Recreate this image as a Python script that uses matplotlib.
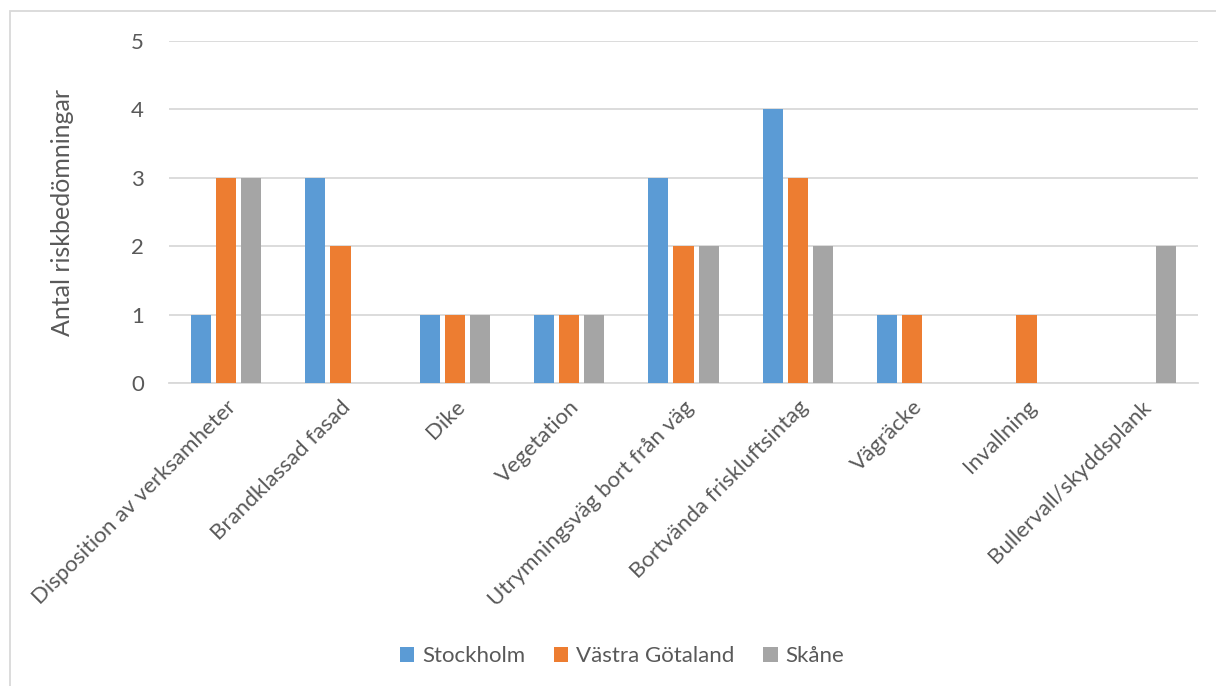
import numpy as np
from matplotlib import pyplot as plt
from matplotlib.patches import Rectangle

categories = ['Disposition av verksamheter', 'Brandklassad fasad', 'Dike', 'Vegetation',
              'Utrymningsväg bort från väg', 'Bortvända friskluftsintag', 'Vägräcke',
              'Invallning', 'Bullervall/skyddsplank']
stockholm = [1, 3, 1, 1, 3, 4, 1, 0, 0]
vastra_gotaland = [3, 2, 1, 1, 2, 3, 1, 1, 0]
skane = [3, 0, 1, 1, 2, 2, 0, 0, 2]
series_names = ['Stockholm', 'Västra Götaland', 'Skåne']
colors = ['#5B9BD5', '#ED7D31', '#A5A5A5']

plt.rcParams['font.family'] = ['Lato', 'DejaVu Sans']
textColor = '#595959'

fig = plt.figure(figsize=(12.16, 6.86), dpi=100)
W, H = 1216, 686
ax = fig.add_axes([169 / W, 1 - 383 / H, (1198 - 169) / W, (383 - 41) / H])

x = np.arange(len(categories))
barWidth = 0.175
step = 0.219
for i, (vals, name, col) in enumerate(zip([stockholm, vastra_gotaland, skane], series_names, colors)):
    ax.bar(x + (i - 1) * step, vals, width=barWidth, color=col, label=name, zorder=3)

ax.set_xlim(-0.5, len(categories) - 0.5)
ax.set_ylim(0, 5)
ax.set_yticks(range(6))
ax.yaxis.grid(True, color='#D9D9D9', linewidth=1.3, zorder=0)
for s in ['top', 'right', 'left']:
    ax.spines[s].set_visible(False)
ax.spines['bottom'].set_color('#D9D9D9')
ax.spines['bottom'].set_linewidth(1.3)
ax.tick_params(axis='y', length=0, colors=textColor, labelsize=16, pad=18)
ax.set_xticks(x)
ax.set_xticklabels(categories, rotation=45, ha='right', va='top', rotation_mode='anchor',
                   fontsize=16, color=textColor)
ax.tick_params(axis='x', length=0, pad=10)

fig.text(62 / W, 1 - 212 / H, 'Antal riskbedömningar', rotation=90, ha='center', va='center',
         color=textColor, fontsize=18)

leg = fig.legend(loc='center', bbox_to_anchor=(622 / W, 1 - 656 / H), ncol=3, frameon=False,
                 fontsize=16, handlelength=0.65, handleheight=0.65, handletextpad=0.35,
                 columnspacing=1.3)
for t in leg.get_texts():
    t.set_color(textColor)

# thin frame around the chart area
fig.patches.append(Rectangle((10 / W, -0.1), 1.2, 1.1 - 11 / H, transform=fig.transFigure,
                             fill=False, edgecolor='#D9D9D9', linewidth=1.3))

fig.savefig('out.png', dpi=100)
